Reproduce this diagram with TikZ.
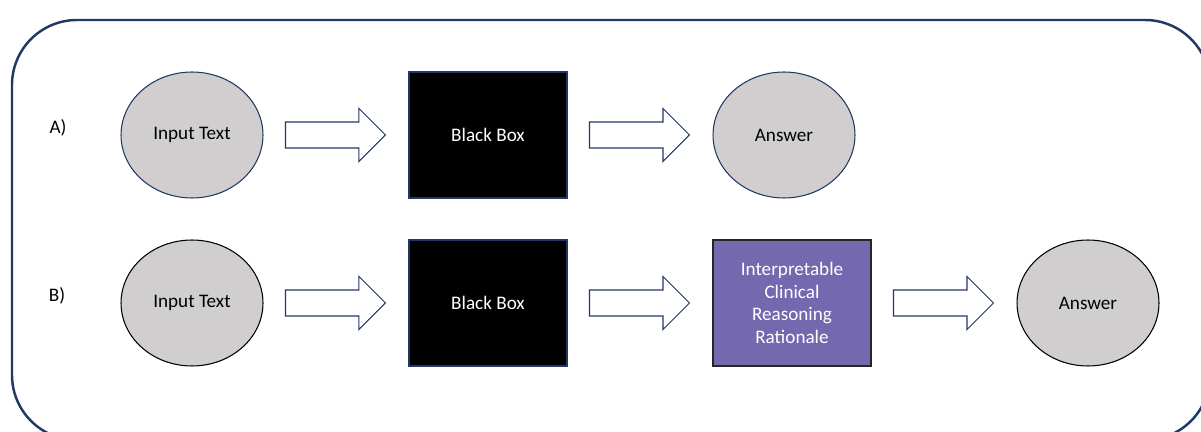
\documentclass[tikz,border=0pt]{standalone}
\usepackage{fontspec}
\setmainfont{Carlito}
\usetikzlibrary{shapes.geometric,shapes.arrows,calc}
\definecolor{navy}{HTML}{1F3864}
\definecolor{ovalgray}{HTML}{D0CECE}
\definecolor{rationale}{HTML}{7469AE}

\begin{document}
\begin{tikzpicture}[
		x=0.02cm, y=-0.02cm,
		every node/.style = {font=\fontsize{10.9}{13}\selectfont},
			oval/.style = {
				ellipse,
				draw = #1,
				line width = 0.6pt,
				fill = ovalgray,
				minimum width = 2.84cm,
				minimum height = 2.52cm
			},
			oval/.default = navy,
			blackbox/.style = {
				rectangle,
				draw = navy,
				line width = 0.6pt,
				fill = black,
				text = white,
				minimum width = 3.16cm,
				minimum height = 2.52cm
			},
			rationalebox/.style = {
				blackbox,
				draw = black!85,
				fill = rationale,
				align = center
			},
			blockarrow/.style = {
				single arrow,
				draw = navy,
				line width = 0.6pt,
				fill = white,
				anchor = tail,
				outer sep = 0pt,
				inner sep = 0.25cm,
				minimum height = 2.0cm,
				minimum width = 1.04cm,
				single arrow head extend = 0.27cm
			}
		]
		\useasboundingbox (0,0) rectangle (1201,432);
		\draw[navy, line width=1.4pt, rounded corners=1.3cm] (12,20) rectangle (1210,440);
		% row A
		\node (labA) at (58,128) {A)};
		\node[oval]     (inA)  at (192,135) {Input Text};
		\node[blackbox] (bbA)  at (488,135) {Black Box};
		\node[oval]     (ansA) at (784,135) {Answer};
		\node[blockarrow] (arA1) at ($(inA.east)+(22,0)$) {};
		\node[blockarrow] (arA2) at ($(bbA.east)+(22,0)$) {};
		% row B
		\node (labB) at (57,296) {B)};
		\node[oval=black]  (inB)  at (192,303) {Input Text};
		\node[blackbox]    (bbB)  at (488,303) {Black Box};
		\node[rationalebox](ratB) at (792,303) {Interpretable\\Clinical\\Reasoning\\Rationale};
		\node[oval=black]  (ansB) at (1088,303) {Answer};
		\node[blockarrow] (arB1) at ($(inB.east)+(22,0)$) {};
		\node[blockarrow] (arB2) at ($(bbB.east)+(22,0)$) {};
		\node[blockarrow] (arB3) at ($(ratB.east)+(22,0)$) {};
	\end{tikzpicture}
\end{document}
